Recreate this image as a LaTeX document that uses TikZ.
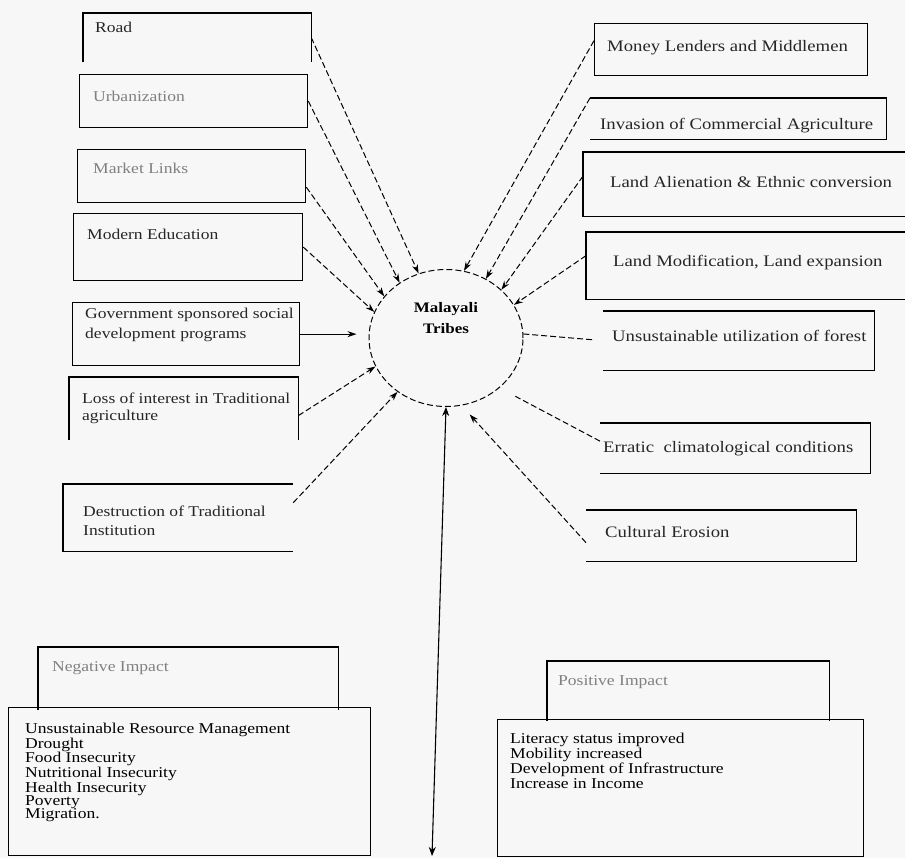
\documentclass[tikz,border=0pt]{standalone}
\usepackage{fontspec}
\setmainfont[FakeStretch=1.17]{Liberation Serif}
\usetikzlibrary{arrows.meta, shapes.geometric}

\begin{document}
\begin{tikzpicture}[x=1pt, y=-1pt,
  cause/.style={inner sep=0pt, anchor=north west, line width=1.3pt},
  cause box/.style={cause, draw},
  side/.style={line width=1.3pt},
  tag/.style={anchor=north west, align=left, inner sep=0pt, text=black!85, font=\fontsize{15}{17}\selectfont},
  rtag/.style={tag, font=\fontsize{16}{18}\selectfont},
  faint/.style={text=black!50},
  link/.style={line width=1pt, dash pattern=on 6pt off 3pt, -{Stealth[length=9pt, width=6pt]}},
  bare link/.style={line width=1pt, dash pattern=on 6pt off 3pt},
]
  \useasboundingbox[fill=black!3] (0,0) rectangle (905,858);

  % centre
  \node[ellipse, draw, line width=1pt, dash pattern=on 6pt off 3pt, minimum width=154, minimum height=137, inner sep=0pt,
    label={[font=\bfseries\fontsize{14.5}{21}\selectfont, align=center, yshift=20pt]center:{Malayali\\Tribes}}]
    (tribes) at (446,338) {};

  % left causes
  \node[cause, minimum width=227, minimum height=48,
    label={[tag, xshift=12pt, yshift=-9pt]north west:{Road}}] (road) at (83,13) {};
  \node[cause box, minimum width=228, minimum height=53,
    label={[tag, faint, xshift=14pt, yshift=-17pt]north west:{Urbanization}}] (urban) at (79,74) {};
  \node[cause box, minimum width=228, minimum height=53,
    label={[tag, faint, xshift=16pt, yshift=-14pt]north west:{Market Links}}] (market) at (77,149) {};
  \node[cause box, minimum width=229, minimum height=67,
    label={[tag, xshift=14pt, yshift=-16pt]north west:{Modern Education}}] (modern) at (73,213) {};
  \node[cause box, minimum width=227, minimum height=63,
    label={[tag, font=\fontsize{15}{20}\selectfont, xshift=13pt, yshift=-6pt]north west:{Government sponsored social\\development programs}}] (govt) at (72,302) {};
  \node[cause, minimum width=228, minimum height=62,
    label={[tag, xshift=13pt, yshift=-16pt]north west:{Loss of interest in Traditional\\agriculture}}] (loss) at (69,377) {};
  \node[cause, minimum width=229, minimum height=66,
    label={[tag, font=\fontsize{15}{19}\selectfont, xshift=20pt, yshift=-22pt]north west:{Destruction of Traditional\\Institution}}] (destroy) at (63,484) {};

  % right causes
  \node[cause box, minimum width=273, minimum height=52,
    label={[rtag, xshift=13pt, yshift=-17pt]north west:{Money Lenders and Middlemen}}] (money) at (594,23) {};
  \node[cause, minimum width=295, minimum height=40,
    label={[rtag, xshift=10pt, yshift=-20pt]north west:{Invasion of Commercial Agriculture}}] (invasion) at (590,98) {};
  \node[cause, minimum width=322, minimum height=63,
    label={[rtag, xshift=27pt, yshift=-24pt]north west:{Land Alienation \& Ethnic conversion}}] (alien) at (583,152) {};
  \node[cause, minimum width=319, minimum height=66,
    label={[rtag, xshift=27pt, yshift=-23pt]north west:{Land Modification, Land expansion}}] (modify) at (586,232) {};
  \node[cause, minimum width=270, minimum height=58,
    label={[rtag, xshift=9pt, yshift=-19pt]north west:{Unsustainable utilization of forest}}] (unsust) at (603,311) {};
  \node[cause, minimum width=269, minimum height=49,
    label={[rtag, xshift=3pt, yshift=-18pt]north west:{Erratic~~climatological conditions}}] (erratic) at (600,423) {};
  \node[cause, minimum width=269, minimum height=50,
    label={[rtag, xshift=19pt, yshift=-16pt]north west:{Cultural Erosion}}] (cultural) at (586,510) {};

  % open sides
  \draw[side] (road.south west) |- (road.north east) -- (road.south east);
  \draw[side] (loss.south west) |- (loss.north east) -- (loss.south east);
  \draw[side] (destroy.north east) -| (destroy.south west) -- (destroy.south east);
  \draw[side] (alien.north east) -| (alien.south west) -- (alien.south east);
  \draw[side] (modify.north east) -| (modify.south west) -- (modify.south east);
  \foreach \b in {invasion, unsust, erratic, cultural}
    \draw[side] (\b.north west) -| (\b.south east) -- (\b.south west);

  % links to the tribes
  \foreach \from/\dy/\ang in {road.east/0/113, urban.east/0/130, market.east/-11/146,
      modern.east/0/160, loss.east/-7/202, destroy.east/15/228,
      money.west/9/75, invasion.north west/0/56, alien.west/8/41, modify.west/10/26}
    \draw[link] ([yshift=\dy pt]\from) -- (tribes.\ang);
  \draw[line width=1pt, -{Stealth[length=9pt, width=6pt]}, shorten >=12pt] (govt.east) -- (govt.east -| tribes.west);
  \draw[bare link, shorten <=11pt] (unsust.west) -- (tribes.3);
  \draw[bare link, shorten >=18pt] ([yshift=7pt]erratic.west) -- (tribes.-43);
  \draw[link, shorten >=12pt] ([yshift=-7pt]cultural.west) -- (tribes.-77);

  % impacts
  \node[cause, minimum width=299, minimum height=62,
    label={[tag, faint, xshift=14pt, yshift=-14pt]north west:{Negative Impact}}] (negback) at (38,647) {};
  \draw[side] (negback.south west) |- (negback.north east) -- (negback.south east);
  \node[cause box, minimum width=362, minimum height=148,
    label={[tag, font=\fontsize{15}{13.4}\selectfont, text=black, xshift=17pt, yshift=-16pt]north west:{Unsustainable Resource Management\\Drought\\Food Insecurity\\Nutritional Insecurity\\Health Insecurity\\Poverty\\Migration.}}] (negfront) at (8,707) {};
  \node[cause, minimum width=281, minimum height=59,
    label={[tag, faint, xshift=11pt, yshift=-14pt]north west:{Positive Impact}}] (posback) at (547,661) {};
  \draw[side] (posback.south west) |- (posback.north east) -- (posback.south east);
  \node[cause box, minimum width=366, minimum height=137,
    label={[tag, font=\fontsize{15}{15}\selectfont, text=black, xshift=13pt, yshift=-14pt]north west:{Literacy status improved\\Mobility increased\\Development of Infrastructure\\Increase in Income}}] (posfront) at (497,719) {};

  \coordinate (base) at (432,856);
  \draw[line width=1.1pt, {Stealth[length=9pt, width=7pt]}-{Stealth[length=9pt, width=7pt]}] (tribes.south) -- (base);
\end{tikzpicture}
\end{document}
